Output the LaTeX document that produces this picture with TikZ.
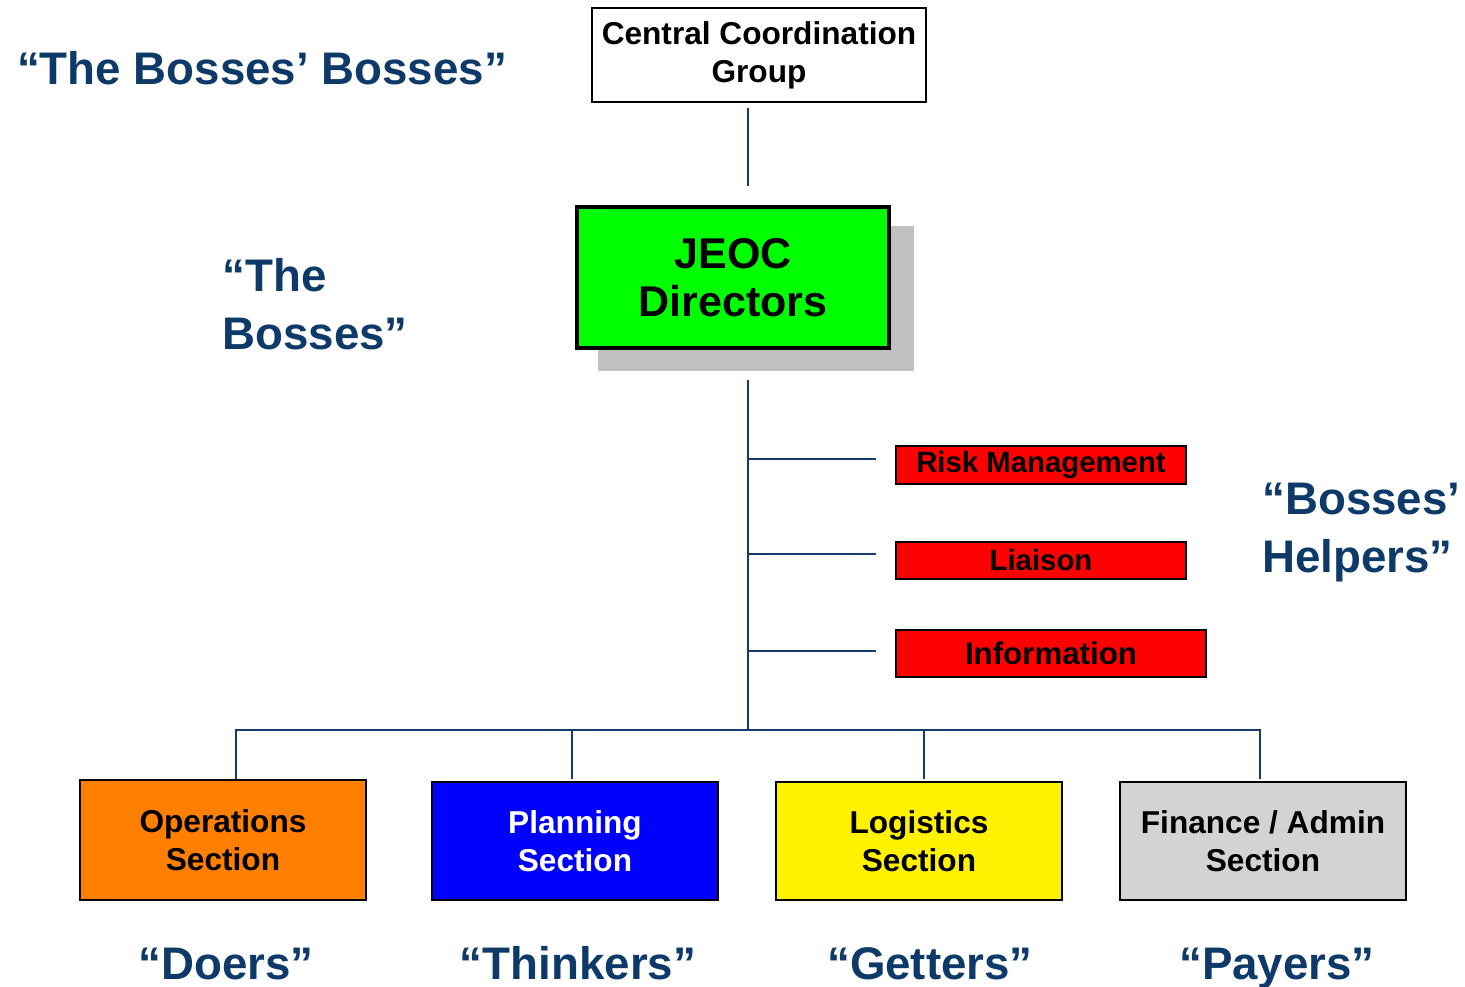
\documentclass[tikz,border=0pt]{standalone}
\usepackage{fontspec}
\setmainfont{Liberation Sans}
\definecolor{lab}{HTML}{0E3A6A}
\definecolor{conn}{HTML}{173A6A}
\definecolor{shadowgray}{HTML}{C0C0C0}
\definecolor{fingray}{HTML}{D3D3D3}
\definecolor{opsorange}{HTML}{FF8000}
\begin{document}
\begin{tikzpicture}[x=0.02cm,y=-0.02cm,
  box/.style={draw=black,line width=0.9pt,rectangle,inner sep=0pt,align=center,font=\bfseries\fontsize{18}{21.5}\selectfont},
  helper/.style={draw=black,line width=0.9pt,rectangle,inner sep=0pt,align=center,fill=red,minimum width=5.8cm},
  section/.style={box,minimum width=5.72cm,minimum height=2.36cm},
  tag/.style={text=lab,font=\bfseries\fontsize{26}{33}\selectfont,inner sep=0pt},
  link/.style={draw=conn,line width=1.4pt}]
\useasboundingbox (0,0) rectangle (1465,987);

% top box
\node[box,minimum width=6.68cm,minimum height=1.88cm] (ccg) at (759,55) {Central Coordination\\Group};

% JEOC with shadow
\fill[shadowgray] (598,226) rectangle (914,371);
\node[box,fill=green,line width=2.3pt,minimum width=6.24cm,minimum height=2.82cm,
  font=\bfseries\fontsize{24.5}{27}\selectfont] (jeoc) at (733,277.5) {JEOC\\Directors};

% helpers
\node[helper,minimum height=0.76cm,font=\bfseries\fontsize{16.7}{20}\selectfont] (risk) at (1041,465) {Risk Management};
\node[helper,minimum height=0.74cm,font=\bfseries\fontsize{16.7}{20}\selectfont] (liaison) at (1041,560.5) {Liaison};
\node[helper,minimum width=6.2cm,minimum height=0.94cm,font=\bfseries\fontsize{17.8}{20}\selectfont] (info) at (1051,653.5) {Information};

% sections
\node[section,fill=opsorange,minimum height=2.4cm] (ops) at (223,840) {Operations\\Section};
\node[section,fill=blue,text=white] (plan) at (575,841) {Planning\\Section};
\node[section,fill=yellow] (log) at (919,841) {Logistics\\Section};
\node[section,fill=fingray] (fin) at (1263,841) {Finance / Admin\\Section};

% connector coordinates
\coordinate (t1) at (748,108);
\coordinate (t2) at (748,186);
\coordinate (m1) at (748,380);
\coordinate (m2) at (748,730);
\coordinate (b1) at (748,459);
\coordinate (b2) at (748,554);
\coordinate (b3) at (748,651);
\coordinate (e1) at (876,459);
\coordinate (e2) at (876,554);
\coordinate (e3) at (876,651);
\coordinate (hl) at (236,730);
\coordinate (hr) at (1260,730);
\coordinate (d1) at (572,730);
\coordinate (d2) at (924,730);
\coordinate (f0) at (236,779);
\coordinate (f1) at (572,779);
\coordinate (f2) at (924,779);
\coordinate (f3) at (1260,779);

\draw[link] (t1) -- (t2);
\draw[link] (m1) -- (m2);
\draw[link] (b1) -- (e1);
\draw[link] (b2) -- (e2);
\draw[link] (b3) -- (e3);
\draw[link] (f0) -- (hl) -- (hr) -- (f3);
\draw[link] (d1) -- (f1);
\draw[link] (d2) -- (f2);

% tags
\node[tag,anchor=base] (tbb) at (262,84) {“The Bosses’ Bosses”};
\node[tag,anchor=west,align=left] (tb) at (222,304) {“The\\Bosses”};
\node[tag,anchor=west,align=left] (tbh) at (1262,533) {“Bosses’\\Helpers”};
\node[tag,anchor=base] (tdo) at (226,979) {“Doers”};
\node[tag,anchor=base] (tth) at (578,979) {“Thinkers”};
\node[tag,anchor=base] (tge) at (930,979) {“Getters”};
\node[tag,anchor=base] (tpa) at (1277,979) {“Payers”};
\end{tikzpicture}
\end{document}
